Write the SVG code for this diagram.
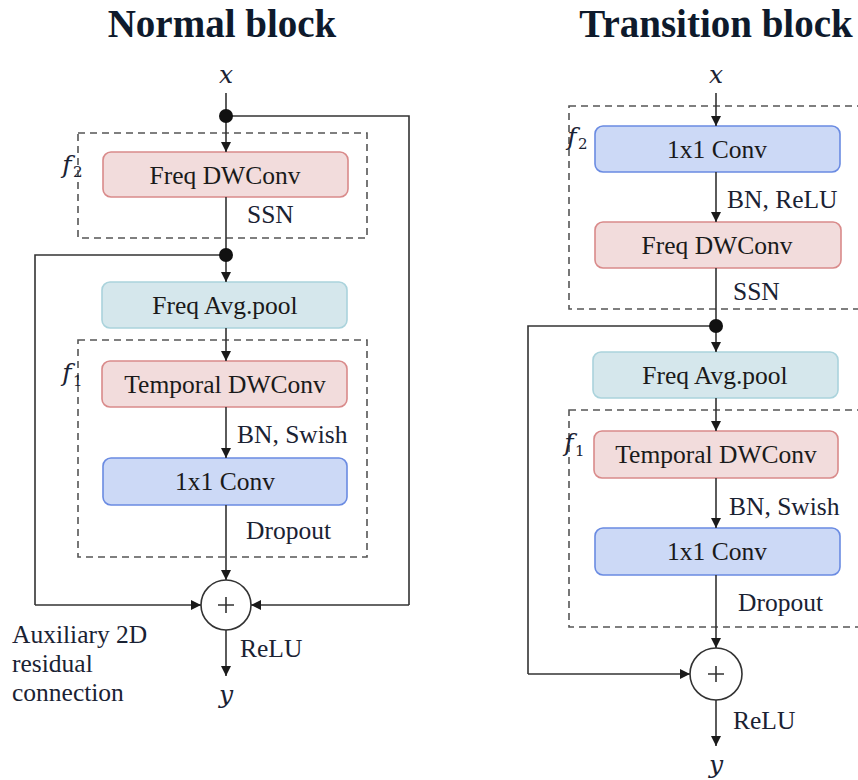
<svg xmlns="http://www.w3.org/2000/svg" width="858" height="780" viewBox="0 0 858 780">
  <defs>
    <marker id="arr" viewBox="0 0 10 10" refX="10" refY="5" markerWidth="10" markerHeight="10" markerUnits="userSpaceOnUse" orient="auto">
      <path d="M0,0 L10,5 L0,10 z" fill="#1a1a1a"/>
    </marker>
    <style>
      .title { font-family: "Liberation Serif", serif; font-weight: bold; font-size: 39px; fill: #0e1a2c; text-anchor: middle; }
      .lbl { font-family: "Liberation Serif", serif; font-size: 25.5px; fill: #1a2233; }
      .box-text { font-family: "Liberation Serif", serif; font-size: 25.5px; fill: #1a1a1a; text-anchor: middle; }
      .math { font-family: "DejaVu Serif", "Liberation Serif", serif; font-style: italic; font-size: 25px; fill: #1a2233; text-anchor: middle; }
      .sub { font-family: "DejaVu Serif", "Liberation Serif", serif; font-size: 15px; fill: #1a2233; }
      .dash { fill: none; stroke: #555; stroke-width: 1.6; stroke-dasharray: 7 5; }
      .pink { fill: #f2dcdc; stroke: #d98a8a; stroke-width: 1.6; }
      .teal { fill: #d5e7ec; stroke: #aad3dc; stroke-width: 1.6; }
      .blue { fill: #ccd9f6; stroke: #6a8be2; stroke-width: 1.6; }
      .wire { fill: none; stroke: #333; stroke-width: 1.6; }
      .arrow { fill: none; stroke: #333; stroke-width: 1.6; marker-end: url(#arr); }
      .dot { fill: #111; }
      .sum { fill: #fff; stroke: #333; stroke-width: 1.6; }
    </style>
  </defs>

  <!-- Normal block -->
  <g id="normal-block">
    <text class="title" x="222" y="37">Normal block</text>

    <g id="n-input">
      <text class="math" x="226" y="83">x</text>
    </g>

    <g id="n-f2">
      <rect class="dash" x="78" y="133" width="289" height="105"/>
      <text class="math" x="67" y="173">f</text><text class="sub" x="73" y="177">2</text>
    </g>
    <g id="n-freq-dwconv">
      <rect class="pink" x="103" y="152" width="245" height="45" rx="8"/>
      <text class="box-text" x="225" y="184">Freq DWConv</text>
    </g>

    <g id="n-freq-avgpool">
      <rect class="teal" x="102" y="282" width="245" height="46" rx="8"/>
      <text class="box-text" x="225" y="314">Freq Avg.pool</text>
    </g>

    <g id="n-f1">
      <rect class="dash" x="78" y="340" width="289" height="217"/>
      <text class="math" x="67" y="381">f</text><text class="sub" x="73" y="386">1</text>
    </g>
    <g id="n-temporal-dwconv">
      <rect class="pink" x="102" y="361" width="245" height="46" rx="8"/>
      <text class="box-text" x="225" y="393">Temporal DWConv</text>
    </g>
    <g id="n-conv1x1">
      <rect class="blue" x="103" y="458" width="244" height="47" rx="8"/>
      <text class="box-text" x="225" y="490">1x1 Conv</text>
    </g>

    <g id="n-sum">
      <circle class="sum" cx="226" cy="605" r="25"/>
      <path class="wire" d="M218,605 H234 M226,597 V613"/>
    </g>

    <g id="n-output">
      <text class="math" x="226" y="703">y</text>
    </g>

    <g id="n-labels">
      <text class="lbl" x="247" y="223">SSN</text>
      <text class="lbl" x="237" y="443">BN, Swish</text>
      <text class="lbl" x="246" y="539">Dropout</text>
      <text class="lbl" x="240" y="657">ReLU</text>
      <text class="lbl" x="12" y="643">Auxiliary 2D</text>
      <text class="lbl" x="12" y="672">residual</text>
      <text class="lbl" x="12" y="701">connection</text>
    </g>

    <g id="n-connectors">
      <path class="wire" d="M226,93 V116"/>
      <path class="arrow" d="M226,116 V152"/>
      <path class="wire" d="M226,116 H409 V605"/>
      <path class="arrow" d="M409,605 H251"/>
      <path class="wire" d="M226,197 V255"/>
      <path class="arrow" d="M226,255 V282"/>
      <path class="wire" d="M226,255 H35 V605"/>
      <path class="arrow" d="M35,605 H201"/>
      <path class="arrow" d="M226,328 V361"/>
      <path class="arrow" d="M226,407 V458"/>
      <path class="arrow" d="M226,505 V580"/>
      <path class="arrow" d="M226,630 V676"/>
      <circle class="dot" cx="226" cy="116" r="7"/>
      <circle class="dot" cx="226" cy="255" r="7"/>
    </g>
  </g>

  <!-- Transition block -->
  <g id="transition-block">
    <text class="title" x="716" y="37">Transition block</text>

    <g id="t-input">
      <text class="math" x="716" y="83">x</text>
    </g>

    <g id="t-f2">
      <rect class="dash" x="569" y="106" width="290" height="203"/>
      <text class="math" x="572" y="145">f</text><text class="sub" x="578" y="149">2</text>
    </g>
    <g id="t-conv1x1-a">
      <rect class="blue" x="595" y="126" width="245" height="46" rx="8"/>
      <text class="box-text" x="717" y="158">1x1 Conv</text>
    </g>
    <g id="t-freq-dwconv">
      <rect class="pink" x="595" y="222" width="246" height="46" rx="8"/>
      <text class="box-text" x="717" y="254">Freq DWConv</text>
    </g>

    <g id="t-freq-avgpool">
      <rect class="teal" x="593" y="352" width="245" height="46" rx="8"/>
      <text class="box-text" x="715" y="384">Freq Avg.pool</text>
    </g>

    <g id="t-f1">
      <rect class="dash" x="569" y="410" width="290" height="217"/>
      <text class="math" x="569" y="451">f</text><text class="sub" x="575" y="456">1</text>
    </g>
    <g id="t-temporal-dwconv">
      <rect class="pink" x="594" y="431" width="244" height="47" rx="8"/>
      <text class="box-text" x="716" y="463">Temporal DWConv</text>
    </g>
    <g id="t-conv1x1-b">
      <rect class="blue" x="595" y="528" width="245" height="47" rx="8"/>
      <text class="box-text" x="717" y="560">1x1 Conv</text>
    </g>

    <g id="t-sum">
      <circle class="sum" cx="716" cy="674" r="26"/>
      <path class="wire" d="M708,674 H724 M716,666 V682"/>
    </g>

    <g id="t-output">
      <text class="math" x="716" y="773">y</text>
    </g>

    <g id="t-labels">
      <text class="lbl" x="727" y="208">BN, ReLU</text>
      <text class="lbl" x="733" y="300">SSN</text>
      <text class="lbl" x="729" y="515">BN, Swish</text>
      <text class="lbl" x="738" y="611">Dropout</text>
      <text class="lbl" x="733" y="729">ReLU</text>
    </g>

    <g id="t-connectors">
      <path class="arrow" d="M716,93 V126"/>
      <path class="arrow" d="M716,172 V222"/>
      <path class="wire" d="M716,268 V326"/>
      <path class="arrow" d="M716,326 V352"/>
      <path class="wire" d="M716,326 H528 V674"/>
      <path class="arrow" d="M528,674 H690"/>
      <path class="arrow" d="M716,398 V431"/>
      <path class="arrow" d="M716,478 V528"/>
      <path class="arrow" d="M716,575 V648"/>
      <path class="arrow" d="M716,700 V746"/>
      <circle class="dot" cx="716" cy="326" r="7"/>
    </g>
  </g>
</svg>
